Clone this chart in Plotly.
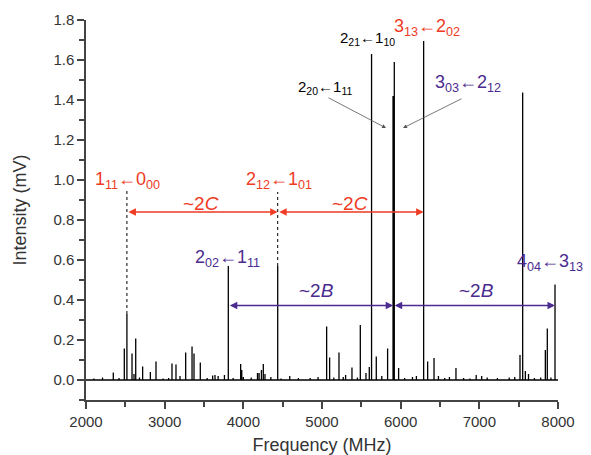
import plotly.graph_objects as go

# stick spectrum: line positions (MHz) and intensities (mV)
freq_mhz = [2100, 2210, 2347, 2420, 2487, 2520, 2585, 2610, 2632, 2680, 2720, 2818, 2890, 2980,
            3050, 3093, 3144, 3195, 3267, 3348, 3373, 3453, 3540, 3610, 3640, 3680, 3760, 3809,
            3870, 3966, 3980, 4000, 4100, 4180, 4200, 4230, 4254, 4275, 4350, 4437, 4480, 4590,
            4700, 4850, 4950, 5059, 5097, 5150, 5216, 5270, 5300, 5381, 5450, 5487, 5559, 5601,
            5630, 5690, 5760, 5834, 5903, 5919, 5974, 6050, 6150, 6200, 6292, 6343, 6424, 6480,
            6560, 6620, 6703, 6800, 6880, 6960, 7030, 7100, 7230, 7380, 7450, 7517, 7551, 7585,
            7625, 7700, 7780, 7839, 7864, 7910, 7962]
intensity_mv = [0.008, 0.012, 0.038, 0.01, 0.158, 0.33, 0.133, 0.03, 0.208, 0.012, 0.067, 0.04, 0.092, 0.008,
                0.01, 0.083, 0.078, 0.02, 0.137, 0.167, 0.133, 0.088, 0.01, 0.022, 0.025, 0.02, 0.025, 0.57,
                0.01, 0.08, 0.05, 0.015, 0.012, 0.035, 0.035, 0.05, 0.08, 0.03, 0.015, 0.57, 0.008, 0.02,
                0.01, 0.01, 0.015, 0.267, 0.113, 0.012, 0.138, 0.015, 0.025, 0.063, 0.012, 0.275, 0.035, 0.065,
                1.63, 0.117, 0.02, 0.157, 1.42, 1.59, 0.06, 0.01, 0.015, 0.02, 1.695, 0.093, 0.11, 0.02,
                0.01, 0.015, 0.06, 0.01, 0.008, 0.025, 0.02, 0.012, 0.01, 0.012, 0.015, 0.125, 1.437, 0.045,
                0.03, 0.01, 0.012, 0.15, 0.258, 0.012, 0.478]

# assigned transitions (MHz)
f_111_000 = 2520
f_202_111 = 3809
f_212_101 = 4437
f_303_212 = 5905
f_313_202 = 6292
f_404_313 = 7962

RED = '#ee3b24'
PURPLE = '#4b2b8f'
GREY = '#333333'
FONT = 'Liberation Sans, Arial, sans-serif'

# build the stick trace: baseline with spikes
xs, ys = [2000], [0]
for f, h in zip(freq_mhz, intensity_mv):
    xs += [f, f, f]
    ys += [0, h, 0]
xs.append(8000)
ys.append(0)

fig = go.Figure()
fig.add_trace(go.Scatter(x=xs, y=ys, mode='lines', line=dict(color='black', width=1.3),
                         hoverinfo='skip', showlegend=False))

# dotted guide lines
fig.add_shape(type='line', x0=f_111_000, x1=f_111_000, y0=0.33, y1=0.95,
              line=dict(color='black', width=1, dash='dot'))
fig.add_shape(type='line', x0=f_212_101, x1=f_212_101, y0=0.57, y1=0.94,
              line=dict(color='black', width=1, dash='dot'))


def span_arrow(x0, x1, y, color):
    fig.add_annotation(x=x1, y=y, ax=x0, ay=y, xref='x', yref='y', axref='x', ayref='y',
                       text='', showarrow=True, arrowside='end+start', arrowhead=2,
                       arrowsize=1, arrowwidth=1.5, arrowcolor=color, standoff=0, startstandoff=0)


span_arrow(f_111_000, f_212_101, 0.84, RED)
span_arrow(f_212_101, f_313_202, 0.84, RED)
span_arrow(f_202_111, f_303_212, 0.372, PURPLE)
span_arrow(f_303_212, f_404_313, 0.372, PURPLE)


def label(x, y, text, color, size, xanchor='center', xshift=0):
    fig.add_annotation(x=x, y=y, xref='x', yref='y', text=text, showarrow=False,
                       xanchor=xanchor, xshift=xshift,
                       font=dict(color=color, size=size, family=FONT))


label(2527, 1.0, '1<sub>11</sub>←0<sub>00</sub>', RED, 18)
label(4447, 1.0, '2<sub>12</sub>←1<sub>01</sub>', RED, 18)
label(3462, 0.885, '~2<i>C</i>', RED, 19)
label(5356, 0.885, '~2<i>C</i>', RED, 19)
label(3805, 0.61, '2<sub>02</sub>←1<sub>11</sub>', PURPLE, 18)
label(4924, 0.45, '~2<i>B</i>', PURPLE, 19)
label(6970, 0.45, '~2<i>B</i>', PURPLE, 19)
label(f_404_313, 0.59, '4<sub>04</sub>←3<sub>13</sub>', PURPLE, 18, xanchor='right', xshift=30)
label(6341, 1.765, '3<sub>13</sub>←2<sub>02</sub>', RED, 18)
label(6850, 1.485, '3<sub>03</sub>←2<sub>12</sub>', PURPLE, 18)
label(5578, 1.71, '2<sub>21</sub>←1<sub>10</sub>', 'black', 15)
label(5038, 1.465, '2<sub>20</sub>←1<sub>11</sub>', 'black', 15)

# pointer arrows from labels to the close pair of lines
for tail, head in [((5063, 1.415), (5814, 1.26)), ((6792, 1.41), (6030, 1.26))]:
    fig.add_annotation(x=head[0], y=head[1], ax=tail[0], ay=tail[1], xref='x', yref='y',
                       axref='x', ayref='y', text='', showarrow=True, arrowhead=2, arrowsize=1,
                       arrowwidth=0.8, arrowcolor='#555555', standoff=0)

axis_common = dict(showline=True, linecolor='#444444', linewidth=1.5, ticks='outside',
                   tickcolor='#444444', tickwidth=1.5, ticklen=7, showgrid=False, zeroline=False,
                   tickfont=dict(size=15, color=GREY), mirror=False, automargin=False)

fig.update_xaxes(range=[2000, 8000], tick0=2000, dtick=1000,
                 minor=dict(dtick=500, ticks='outside', ticklen=5, tickcolor='#444444', tickwidth=1.5),
                 title=dict(text='Frequency (MHz)', font=dict(size=18, color=GREY), standoff=13),
                 **axis_common)
fig.update_yaxes(range=[-0.1, 1.8], tick0=0, dtick=0.2, tickformat='.1f',
                 minor=dict(dtick=0.1, ticks='outside', ticklen=5, tickcolor='#444444', tickwidth=1.5),
                 title=dict(text='Intensity (mV)', font=dict(size=18, color=GREY), standoff=22),
                 **axis_common)

# the page body adds an 8px margin, so the figure is 8px smaller with margins shifted
fig.update_layout(width=583, height=447, margin=dict(l=78, r=33, t=12, b=55),
                  plot_bgcolor='white', paper_bgcolor='white',
                  font=dict(family=FONT))

fig.write_html("out.html", config={'displayModeBar': False})
